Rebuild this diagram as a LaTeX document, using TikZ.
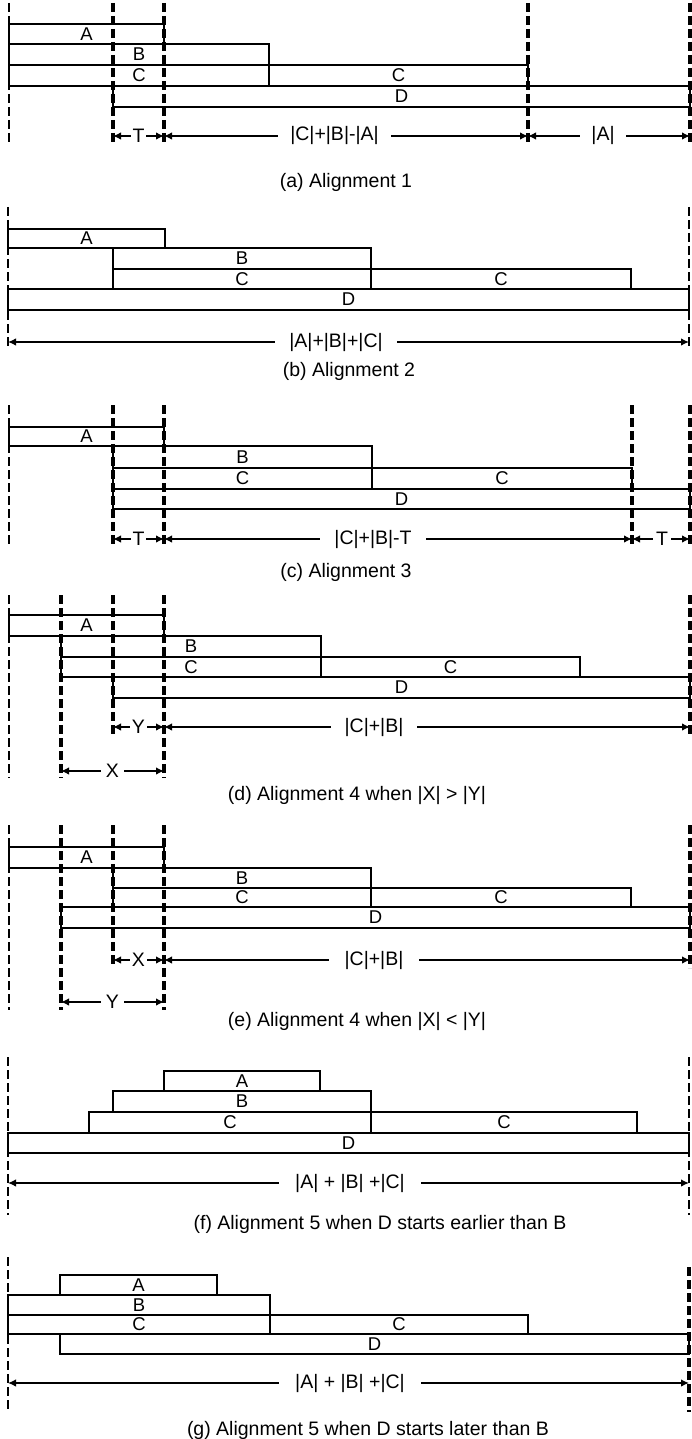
\documentclass[tikz,border=0pt]{standalone}
\usepackage{fontspec}
\setmainfont{Liberation Sans}
\usetikzlibrary{arrows.meta,fit}
\tikzset{
  bx/.style={draw, line width=1.3pt, inner sep=0pt},
  lbl/.style={inner sep=0pt, font=\fontsize{18.5}{20}\selectfont},
  guide/.style={line width=4pt, dash pattern=on 9pt off 4pt},
  guidethin/.style={line width=2.6pt, dash pattern=on 9pt off 4pt},
  dimline/.style={line width=1.3pt, {Latex[length=8pt,width=7.5pt]}-{Latex[length=8pt,width=7.5pt]}},
  dimlabel/.style={fill=white, inner ysep=1pt, inner xsep=#1, font=\fontsize{19.5}{22}\selectfont},
  dimlabel/.default=10pt,
  capt/.style={anchor=base, font=\fontsize{19.5}{22}\selectfont},
}
\newcommand\Bx[6]{\node[bx, fit={(#2,#3) (#4,#5)}] (#1) {};
  \node[lbl] (#1t) at (#1.center) {#6};}
\newcommand\Gd[4][guide]{\draw[#1] (#2,#3) -- (#2,#4);}
\newcommand\Dm[7]{%
  \coordinate (#1l) at (#2,#4);
  \coordinate (#1r) at (#3,#4);
  \draw[dimline] (#1l) -- (#1r);
  \node[dimlabel=#7] (#1t) at (#5,#4) {#6};}
\begin{document}
\begin{tikzpicture}[x=1pt,y=-1pt]
\useasboundingbox (0,0) rectangle (691,1439);

% ---------- (a)
\Bx{aA}{9}{24}{164}{44}{A}
\Bx{aB}{9}{44}{269}{65}{B}
\Bx{aC1}{9}{65}{269}{86}{C}
\Bx{aC2}{269}{65}{528}{86}{C}
\Bx{aD}{113}{86}{690}{107}{D}
\Gd[guidethin]{9}{3}{145}
\Gd{113}{3}{145}
\Gd{164}{3}{145}
\Gd{528}{3}{145}
\Gd{690}{3}{145}
\Dm{a1}{113}{164}{136}{138.5}{T}{2pt}
\Dm{a2}{164}{528}{136}{334.5}{|C|+|B|-|A|}{12pt}
\Dm{a3}{528}{690}{136}{603}{|A|}{11pt}
\node[capt] (capa) at (346,188) {(a) Alignment 1};

% ---------- (b)
\Bx{bA}{8}{229}{165}{248}{A}
\Bx{bB}{113}{248}{371}{269}{B}
\Bx{bC1}{113}{269}{371}{289}{C}
\Bx{bC2}{371}{269}{631}{289}{C}
\Bx{bD}{8}{289}{689}{310}{D}
\Gd[guidethin]{8}{207}{347}
\Gd[guidethin]{689}{207}{347}
\Dm{b1}{8}{689}{342}{336}{|A|+|B|+|C|}{14pt}
\node[capt] (capb) at (349,376) {(b) Alignment 2};

% ---------- (c)
\Bx{cA}{9}{427}{164}{446}{A}
\Bx{cB}{113}{446}{372}{468}{B}
\Bx{cC1}{113}{468}{372}{489}{C}
\Bx{cC2}{372}{468}{632}{489}{C}
\Bx{cD}{113}{489}{690}{509}{D}
\Gd[guidethin]{9}{405}{545}
\Gd{113}{405}{545}
\Gd{164}{405}{545}
\Gd{632}{405}{545}
\Gd{690}{405}{545}
\Dm{c1}{113}{164}{539}{138.5}{T}{2pt}
\Dm{c2}{164}{632}{539}{373}{|C|+|B|-T}{14pt}
\Dm{c3}{632}{690}{539}{662}{T}{3pt}
\node[capt] (capc) at (346,577) {(c) Alignment 3};

% ---------- (d)
\Bx{dA}{9}{615}{164}{636}{A}
\Bx{dB}{61}{636}{321}{657}{B}
\Bx{dC1}{61}{657}{321}{677}{C}
\Bx{dC2}{321}{657}{580}{677}{C}
\Bx{dD}{113}{677}{690}{698}{D}
\Gd[guidethin]{9}{595}{778}
\Gd{61}{595}{778}
\Gd{113}{595}{735}
\Gd{164}{595}{778}
\Gd{690}{595}{737}
\Dm{d1}{113}{164}{727}{138.5}{Y}{2pt}
\Dm{d2}{164}{690}{727}{374}{|C|+|B|}{14pt}
\Dm{d3}{61}{164}{771}{112.5}{X}{5pt}
\node[capt] (capd) at (357,800) {(d) Alignment 4 when |X| > |Y|};

% ---------- (e)
\Bx{eA}{9}{847}{164}{868}{A}
\Bx{eB}{113}{868}{371}{888}{B}
\Bx{eC1}{113}{888}{371}{907}{C}
\Bx{eC2}{371}{888}{631}{907}{C}
\Bx{eD}{61}{907}{690}{928}{D}
\Gd[guidethin]{9}{825}{1010}
\Gd{61}{825}{1010}
\Gd{113}{825}{966}
\Gd{164}{825}{1010}
\Gd{690}{825}{968}
\Dm{e1}{113}{164}{960}{138.5}{X}{2pt}
\Dm{e2}{164}{690}{960}{374}{|C|+|B|}{16pt}
\Dm{e3}{61}{164}{1002}{112.5}{Y}{5pt}
\node[capt] (cape) at (357,1026) {(e) Alignment 4 when |X| < |Y|};

% ---------- (f)
\Bx{fA}{164}{1071}{320}{1091}{A}
\Bx{fB}{113}{1091}{371}{1112}{B}
\Bx{fC1}{89}{1112}{371}{1133}{C}
\Bx{fC2}{371}{1112}{637}{1133}{C}
\Bx{fD}{8}{1133}{689}{1153}{D}
\Gd[guidethin]{8}{1057}{1215}
\Gd[guidethin]{689}{1057}{1215}
\Dm{f1}{8}{689}{1183}{350}{|A| + |B| +|C|}{16pt}
\node[capt] (capf) at (380,1229) {(f) Alignment 5 when D starts earlier than B};

% ---------- (g)
\Bx{gA}{60}{1275}{217}{1295}{A}
\Bx{gB}{8}{1295}{270}{1315}{B}
\Bx{gC1}{8}{1315}{270}{1334}{C}
\Bx{gC2}{270}{1315}{528}{1334}{C}
\Bx{gD}{60}{1334}{689}{1354}{D}
\Gd[guidethin]{8}{1257}{1412}
\Gd{689}{1267}{1412}
\Dm{g1}{8}{689}{1383}{350}{|A| + |B| +|C|}{16pt}
\node[capt] (capg) at (368,1435) {(g) Alignment 5 when D starts later than B};
\end{tikzpicture}
\end{document}
